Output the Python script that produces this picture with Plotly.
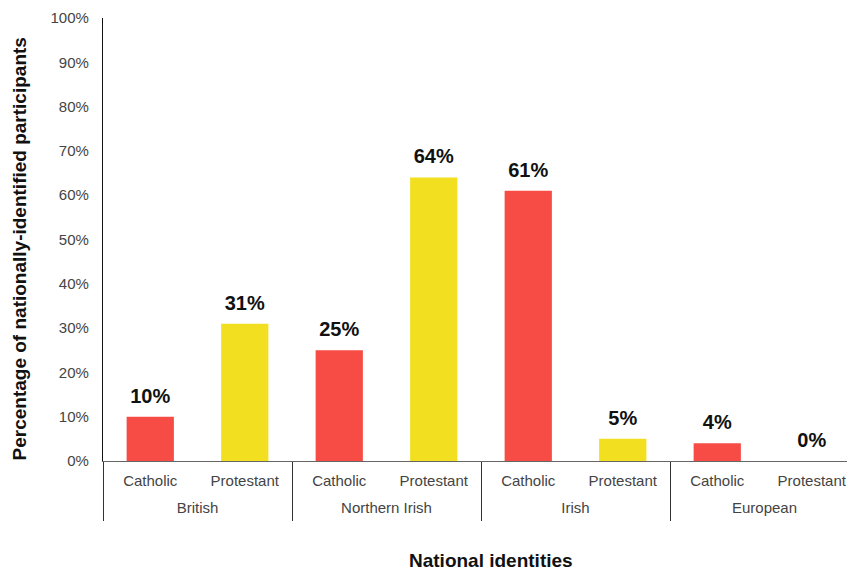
import plotly.graph_objects as go

identities = ["British", "Northern Irish", "Irish", "European"]
religions = ["Catholic", "Protestant"]
values = [10, 31, 25, 64, 61, 5, 4, 0]
colors = ["#F64C45", "#F2DF1F"]
y_ticks = list(range(0, 101, 10))
y_labels = [f"{v}%" for v in y_ticks]

font = "Liberation Sans, Arial, Helvetica, sans-serif"

n_rel = len(religions)
inner_labels = [r for _ in identities for r in religions]
positions = list(range(len(inner_labels)))
bar_colors = [colors[i % n_rel] for i in positions]
group_centers = [g * n_rel + (n_rel - 1) / 2 for g in range(len(identities))]
group_edges = [g * n_rel - 0.5 for g in range(len(identities) + 1)]

fig = go.Figure()
fig.add_trace(go.Bar(
    x=positions,
    y=values,
    marker=dict(color=bar_colors, line=dict(width=0)),
    width=0.5,
    hoverinfo="skip",
))
fig.add_trace(go.Scatter(
    x=positions,
    y=values,
    mode="markers+text",
    marker=dict(size=13, opacity=0),
    text=[f"{v}%" for v in values],
    textposition="top center",
    textfont=dict(family=font, size=20, color="#111111", weight="bold"),
    cliponaxis=False,
    hoverinfo="skip",
))
# invisible trace to attach the outer (group) axis
fig.add_trace(go.Scatter(x=group_centers, y=[None] * len(group_centers),
                         xaxis="x2", mode="markers", hoverinfo="skip",
                         showlegend=False))

xrange = [-0.5, 7.373]

fig.update_layout(
    width=847, height=570,
    margin=dict(l=103, r=0, t=18, b=109),
    plot_bgcolor="white", paper_bgcolor="white",
    showlegend=False,
    font=dict(family=font, size=15, color="#444444"),
    xaxis=dict(
        range=xrange, tickvals=positions, ticktext=inner_labels,
        showgrid=False, zeroline=False,
        showline=True, linecolor="#666666", linewidth=1.2,
        ticks="", ticklabelstandoff=6, ticklabeloverflow="allow",
        tickfont=dict(size=15, color="#444444"),
        minor=dict(tickvals=group_edges, ticks="outside", ticklen=59,
                   tickcolor="#333333", tickwidth=1, showgrid=False),
    ),
    xaxis2=dict(
        range=xrange, overlaying="x", side="bottom", anchor="y",
        tickvals=group_centers, ticktext=identities,
        showgrid=False, zeroline=False, showline=False,
        ticks="", ticklabelstandoff=36, ticklabeloverflow="allow",
        tickfont=dict(size=15, color="#444444"),
    ),
    yaxis=dict(
        range=[0, 100], tickvals=y_ticks, ticktext=y_labels,
        showgrid=False, zeroline=False,
        showline=True, linecolor="#111111", linewidth=1.2,
        ticks="", ticklabelstandoff=10,
        tickfont=dict(size=15, color="#444444"),
    ),
    annotations=[
        dict(text="National identities", xref="paper", yref="paper",
             x=0.5215, y=-0.2235, xanchor="center", yanchor="middle",
             showarrow=False,
             font=dict(size=19, color="#111111", weight="bold")),
        dict(text="Percentage of nationally-identified participants",
             xref="paper", yref="paper", x=-0.1116, y=0.4797,
             xanchor="center", yanchor="middle", textangle=-90,
             showarrow=False,
             font=dict(size=19, color="#111111", weight="bold")),
    ],
)

fig.write_html(
    "out.html",
    config={"displayModeBar": False},
    post_script="document.body.style.margin='0';document.body.style.overflow='hidden';",
)
